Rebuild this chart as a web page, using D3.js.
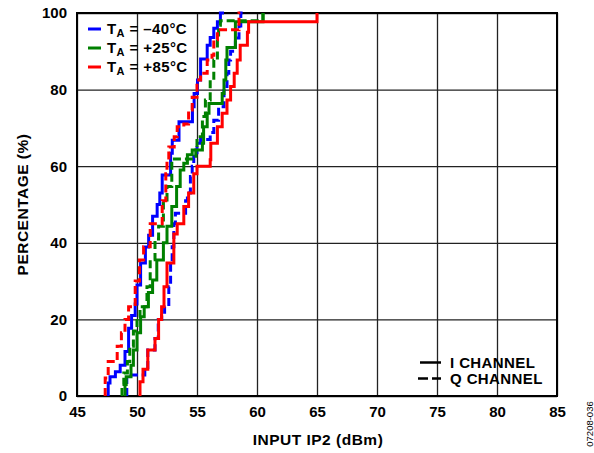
<!DOCTYPE html>
<html>
<head>
<meta charset="utf-8">
<script src="https://cdn.jsdelivr.net/npm/d3@7"></script>
<style>
  body { margin: 0; background: #fff; }
  text { font-family: Arial, "Liberation Sans", sans-serif; font-weight: bold; fill: #000; }
</style>
</head>
<body>
<svg id="chart" width="594" height="453"></svg>
<script>
// axis ticks
const xTicks = [45, 50, 55, 60, 65, 70, 75, 80, 85]
const yTicks = [0, 20, 40, 60, 80, 100]

// cumulative distributions, [input IP2 dBm, percentage]
const minus40I = [[47.6,0],[47.75,3.4],[48.2,5],[48.6,6.3],[49.0,8],[49.3,11.6],[49.55,17.7],[49.85,21],[50.0,24],[50.3,29],[50.7,34.7],[50.97,38.9],[51.3,42],[51.68,46.9],[51.9,50],[52.1,53],[52.24,57.7],[52.8,57.7],[52.94,63.4],[53.08,66.8],[53.5,66.8],[53.78,71.6],[54.62,71.6],[54.76,75.5],[55.04,79],[55.3,82.5],[55.46,88],[55.85,88],[56.1,91.6],[56.4,93.6],[56.7,96],[56.95,97.7],[57.25,100]]
const minus40Q = [[49.15,0],[50.65,5.5],[50.9,7],[51.5,12],[51.77,15],[52.06,20],[52.3,21],[52.65,23.3],[52.8,28.5],[52.93,34.7],[53.07,39],[53.2,45],[53.35,47.7],[54.05,47.7],[54.2,51],[54.45,53],[54.6,57.3],[54.73,60],[55.0,62.6],[55.3,66],[55.7,67],[56.1,67],[56.4,68.8],[56.8,72],[57.25,75.5],[57.5,80.8],[57.65,84.3],[57.8,87.7],[58.2,90],[58.5,93.5],[58.65,96.6],[58.8,100]]
const plus25I = [[49.0,0],[49.1,3],[49.5,5],[49.7,8],[50.0,12],[50.3,16.5],[50.6,20.7],[50.95,23.3],[51.3,27],[51.65,30.3],[52.2,35.5],[52.5,40],[52.9,44.3],[53.3,49.5],[53.6,54.7],[53.9,59],[54.2,60.8],[54.6,63],[54.85,64.2],[55.45,64.2],[55.55,66],[55.85,70.3],[56.0,73.8],[56.25,76.4],[57.1,76.4],[57.25,79],[57.4,82.5],[57.5,87.7],[57.5,91],[58.2,91],[58.2,97.7],[60.5,97.7],[60.5,100]]
const plus25Q = [[48.75,0],[48.9,3],[49.2,6],[49.4,9],[49.7,13],[50.0,17],[50.25,20.7],[50.83,23.3],[51.1,28.5],[51.5,35.6],[51.8,41],[52.2,44.3],[52.5,51.2],[52.9,54.7],[53.05,61.9],[54.9,61.9],[55.0,64.2],[55.45,67.7],[55.7,73],[56.1,77.3],[56.4,82.5],[56.7,87.7],[56.8,93.5],[56.95,96.8],[57.1,98],[60.5,98],[60.5,100]]
const plus85I = [[50.25,0],[50.5,3.7],[50.9,7],[51.5,12],[51.8,15],[52.05,20],[52.25,23.3],[52.5,28.5],[53.07,34.7],[53.07,39],[53.35,42.3],[53.9,45],[54.3,49.5],[54.73,53],[55.0,58],[55.3,60],[56.1,60],[56.15,61.7],[56.7,66],[57.1,70.3],[57.5,73.8],[57.8,77.3],[58.1,80.8],[58.35,84.3],[58.6,87.7],[59.2,91.6],[59.3,95],[59.5,97.7],[65,97.7],[65,100]]
const plus85Q = [[47.35,0],[47.6,4.7],[48.35,9],[48.7,13],[49.0,16.5],[49.3,20],[49.85,23.3],[50.2,30],[50.55,35.5],[51.1,39],[51.4,45],[52.1,45],[52.4,51],[52.5,58],[52.65,61.7],[53.1,65],[53.35,67.7],[53.9,70.3],[54.3,71],[54.6,74.7],[55.0,78],[55.3,82.5],[55.85,84.3],[56.25,87.7],[56.4,89],[56.7,93],[56.8,95.6],[58.5,95.6],[58.5,98.6],[58.6,100]]

const tempLabels = ['–40°C', '+25°C', '+85°C']
const tempColors = ['#0000ff', '#008000', '#ff0000']
const channelLabels = ['I CHANNEL', 'Q CHANNEL']

const series = [
    { values: minus40I, color: tempColors[0], dashed: false },
    { values: minus40Q, color: tempColors[0], dashed: true },
    { values: plus25I, color: tempColors[1], dashed: false },
    { values: plus25Q, color: tempColors[1], dashed: true },
    { values: plus85I, color: tempColors[2], dashed: false },
    { values: plus85Q, color: tempColors[2], dashed: true }
]

const plot = { left: 77, right: 557, top: 13, bottom: 396 }

const svg = d3.select('#chart')

const xScale = d3.scaleLinear().domain([45, 85]).range([plot.left, plot.right])
const yScale = d3.scaleLinear().domain([0, 100]).range([plot.bottom, plot.top])

const styleTicks = sel => sel.selectAll('text')
    .attr('font-size', '15px')
    .attr('font-weight', 'bold')
    .attr('font-family', 'Arial, "Liberation Sans", sans-serif')
    .attr('fill', '#000')

// x axis with full height gridlines
const xAxis = svg.append('g')
    .attr('transform', `translate(0,${plot.bottom})`)
    .call(d3.axisBottom(xScale).tickValues(xTicks).tickSize(-(plot.bottom - plot.top)).tickPadding(10))
xAxis.select('.domain').remove()
xAxis.selectAll('line').attr('stroke', '#222').attr('stroke-width', 1.3)
styleTicks(xAxis)

// y axis with full width gridlines
const yAxis = svg.append('g')
    .attr('transform', `translate(${plot.left},0)`)
    .call(d3.axisLeft(yScale).tickValues(yTicks).tickSize(-(plot.right - plot.left)).tickPadding(10))
yAxis.select('.domain').remove()
yAxis.selectAll('line').attr('stroke', '#222').attr('stroke-width', 1.3)
styleTicks(yAxis)

// frame
svg.append('rect')
    .attr('x', plot.left).attr('y', plot.top)
    .attr('width', plot.right - plot.left).attr('height', plot.bottom - plot.top)
    .attr('fill', 'none').attr('stroke', '#000').attr('stroke-width', 2)

// step lines
const line = d3.line()
    .x(d => xScale(d[0]))
    .y(d => yScale(d[1]))
    .curve(d3.curveStepBefore)

svg.selectAll('.series')
    .data(series)
    .enter()
    .append('path')
    .attr('class', 'series')
    .attr('d', d => line(d.values))
    .attr('fill', 'none')
    .attr('stroke', d => d.color)
    .attr('stroke-width', 3)
    .attr('stroke-dasharray', d => d.dashed ? '8,4' : null)

// temperature legend
const tempKey = svg.append('g')
tempKey.selectAll('line')
    .data(tempLabels)
    .enter()
    .append('line')
    .attr('x1', 88).attr('x2', 101)
    .attr('y1', (d, i) => 29 + 19 * i).attr('y2', (d, i) => 29 + 19 * i)
    .attr('stroke', (d, i) => tempColors[i])
    .attr('stroke-width', 3)

const tempText = tempKey.selectAll('text')
    .data(tempLabels)
    .enter()
    .append('text')
    .attr('x', 107)
    .attr('y', (d, i) => 34 + 19 * i)
    .attr('font-size', '15px')
    .attr('letter-spacing', '0.4px')
tempText.append('tspan').text('T')
tempText.append('tspan').attr('font-size', '11px').attr('dy', 3).text('A')
tempText.append('tspan').attr('dy', -3).text(d => ' = ' + d)

// channel legend
svg.append('line')
    .attr('x1', 420).attr('x2', 441).attr('y1', 362.5).attr('y2', 362.5)
    .attr('stroke', '#000').attr('stroke-width', 2.5)
svg.append('line')
    .attr('x1', 418).attr('x2', 441).attr('y1', 378.5).attr('y2', 378.5)
    .attr('stroke', '#000').attr('stroke-width', 2.5).attr('stroke-dasharray', '10,4')
svg.selectAll('.chan')
    .data(channelLabels)
    .enter()
    .append('text')
    .attr('class', 'chan')
    .attr('x', 450)
    .attr('y', (d, i) => 367.5 + 16 * i)
    .attr('font-size', '15px')
    .attr('letter-spacing', '0.4px')
    .text(d => d)

// axis titles
svg.append('text')
    .attr('x', 318)
    .attr('y', 445)
    .attr('text-anchor', 'middle')
    .attr('font-size', '15.5px')
    .attr('letter-spacing', '0.5px')
    .text('INPUT IP2 (dBm)')

svg.append('text')
    .attr('transform', `translate(28,${(plot.top + plot.bottom) / 2}) rotate(-90)`)
    .attr('text-anchor', 'middle')
    .attr('font-size', '15.5px')
    .attr('letter-spacing', '0.5px')
    .text('PERCENTAGE (%)')

// figure id
svg.append('text')
    .attr('transform', 'translate(593,424) rotate(-90)')
    .attr('text-anchor', 'middle')
    .attr('font-size', '9.5px')
    .style('font-weight', 'normal')
    .attr('fill', '#333')
    .text('07208-036')
</script>
</body>
</html>
